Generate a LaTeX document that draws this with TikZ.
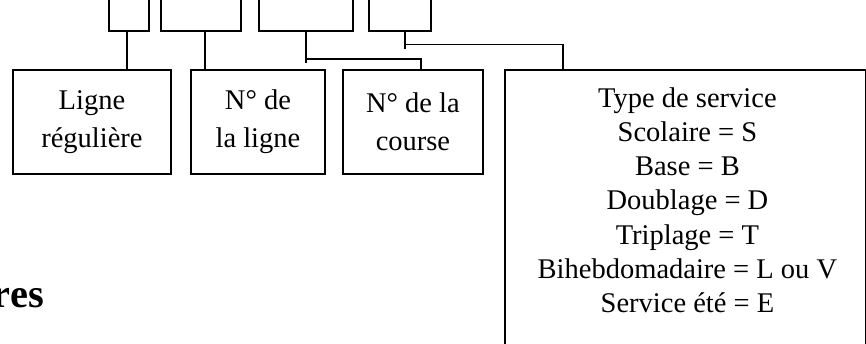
\documentclass[tikz,border=0pt]{standalone}
\usepackage{fontspec}
\setmainfont{Liberation Serif}
\usetikzlibrary{positioning,calc}

\tikzset{
  boite/.style={draw, line width=0.8pt, inner sep=0pt, align=center,
    font=\fontsize{12}{16}\selectfont},
}

\begin{document}
\begin{tikzpicture}[x=0.421pt, y=-0.421pt, line width=0.8pt]
			% Units
			\def\pu{0.421pt}
			\useasboundingbox (0,0) rectangle (866,344);
			\clip (0,0) rectangle (866,344);

			% Top boxes
			\node[boite, minimum width=40*\pu, minimum height=60*\pu, anchor=south west] (haut1) at (108,32) {};
			\node[boite, minimum width=80*\pu, minimum height=60*\pu, anchor=south west] (haut2) at (160,32) {};
			\node[boite, minimum width=94*\pu, minimum height=60*\pu, anchor=south west] (haut3) at (258,32) {};
			\node[boite, minimum width=62*\pu, minimum height=60*\pu, anchor=south west] (haut4) at (368,32) {};

			% Bottom boxes
			\node[boite, minimum width=158*\pu, minimum height=104*\pu, anchor=north west] (ligne) at (12,69) {Ligne\\régulière};
			\node[boite, minimum width=134*\pu, minimum height=104*\pu, anchor=north west] (num) at (190,69) {N° de\\la ligne};
			\node[boite, minimum width=140*\pu, minimum height=104*\pu, anchor=north west] (course) at (342,69) {N° de la\\course};
			\node[boite, minimum width=361*\pu, minimum height=320*\pu, anchor=north west] (type) at (504,69) {};
			\node[anchor=north, align=center, inner sep=0pt, font=\fontsize{12}{14.4}\selectfont] (typetxt) at ($(type.north)+(2,17.5)$)
				{Type de service\\Scolaire = S\\Base = B\\Doublage = D\\Triplage = T\\Bihebdomadaire = L ou V\\Service été = E};

			% Connectors
			\draw ([xshift=-2*\pu]haut1.south) -- ([xshift=-2*\pu]haut1.south |- ligne.north);
			\draw ([xshift=4*\pu]haut2.south) -- ([xshift=4*\pu]haut2.south |- num.north);
			\draw (haut3.south) -- ++(0,31);
			\draw ($(haut3.south)+(0,27)$) -| ($(course.north)+(8,0)$);
			\draw ($(haut4.south)+(5,0)$) -- ++(0,17);
			\draw ($(haut4.south)+(5,12.5)$) -| ($(type.north west)+(59,0)$);

			% Title
			\node[anchor=base west, inner sep=0pt, font=\bfseries\fontsize{17}{20}\selectfont] (titre) at (-8,308) {res};
		\end{tikzpicture}
\end{document}
